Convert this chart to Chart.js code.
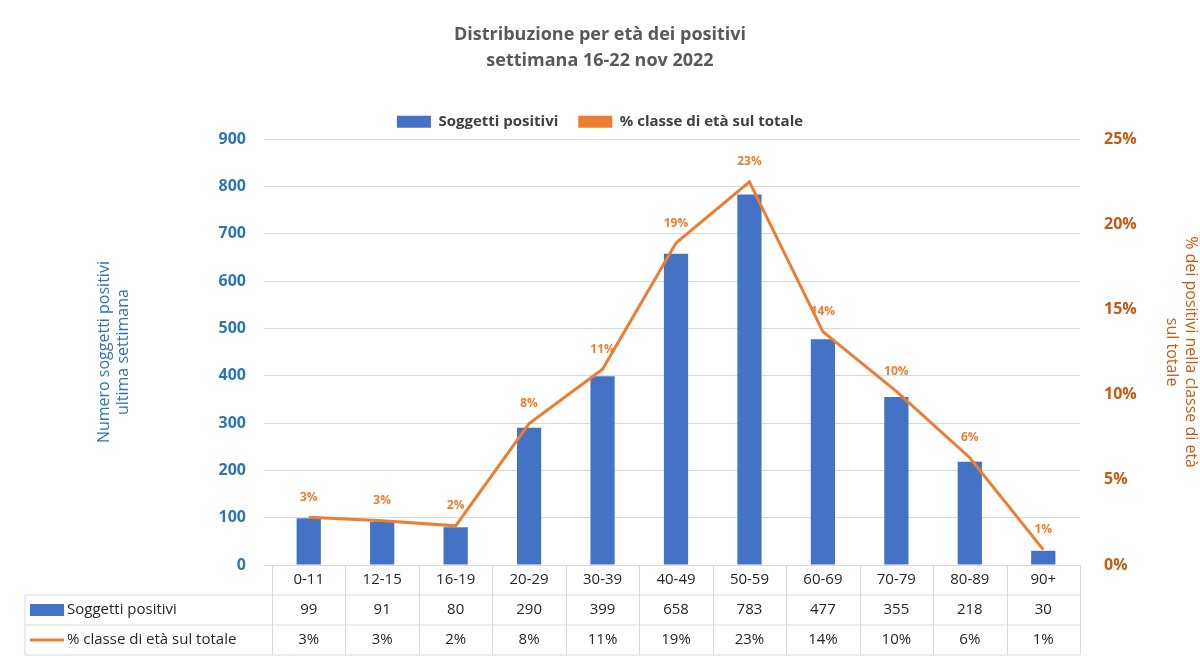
<!DOCTYPE html>
<html lang="it">
<head>
<meta charset="UTF-8">
<title>Distribuzione per età dei positivi</title>
<script src="https://cdn.jsdelivr.net/npm/chart.js@4.4.0/dist/chart.umd.min.js"></script>
<style>
  body { margin: 0; background: #fff; }
  #wrap { width: 1200px; height: 662px; }
</style>
</head>
<body>
<div id="wrap"><canvas id="chart"></canvas></div>
<script>
// --- Dati ---
const classi = ['0-11', '12-15', '16-19', '20-29', '30-39', '40-49', '50-59', '60-69', '70-79', '80-89', '90+'];
const soggetti = [99, 91, 80, 290, 399, 658, 783, 477, 355, 218, 30];
const percentuali = [2.8, 2.6, 2.3, 8.3, 11.5, 18.9, 22.5, 13.7, 10.2, 6.3, 0.9];
const etichettePerc = ['3%', '3%', '2%', '8%', '11%', '19%', '23%', '14%', '10%', '6%', '1%'];

const BLU = '#4472c4';
const ARANCIO = '#ed7d31';
const FONT = '"Open Sans", "Noto Sans", sans-serif';

// etichette % sopra i punti della linea
const etichetteLinea = {
  id: 'etichetteLinea',
  afterDatasetsDraw(chart) {
    const ctx = chart.ctx;
    const meta = chart.getDatasetMeta(1);
    ctx.save();
    ctx.fillStyle = ARANCIO;
    ctx.font = 'bold 12px ' + FONT;
    ctx.textAlign = 'center';
    meta.data.forEach((p, i) => ctx.fillText(etichettePerc[i], p.x, p.y - 20));
    ctx.restore();
  }
};

// tabella dati sotto il grafico
const tabellaDati = {
  id: 'tabellaDati',
  afterDraw(chart) {
    const ctx = chart.ctx;
    const x = chart.scales.x;
    const area = chart.chartArea;
    const passo = x.getPixelForValue(1) - x.getPixelForValue(0);
    const sinistra = 25, destra = area.right;
    const r0 = area.bottom, r1 = r0 + 30, r2 = r1 + 30, r3 = r2 + 30;
    ctx.save();
    ctx.strokeStyle = '#d9d9d9';
    ctx.lineWidth = 1;
    ctx.beginPath();
    ctx.moveTo(sinistra, r1); ctx.lineTo(destra, r1);
    ctx.moveTo(sinistra, r2); ctx.lineTo(destra, r2);
    ctx.moveTo(sinistra, r3); ctx.lineTo(destra, r3);
    ctx.moveTo(sinistra, r1); ctx.lineTo(sinistra, r3);
    for (let i = 0; i <= classi.length; i++) {
      const px = Math.round(area.left + i * passo) + 0.5;
      ctx.moveTo(px, r0); ctx.lineTo(px, r3);
    }
    ctx.stroke();

    ctx.fillStyle = '#262626';
    ctx.font = '15px ' + FONT;
    ctx.textAlign = 'center';
    ctx.textBaseline = 'middle';
    classi.forEach((c, i) => {
      const px = x.getPixelForValue(i);
      ctx.fillText(c, px, (r0 + r1) / 2);
      ctx.fillText(String(soggetti[i]), px, (r1 + r2) / 2);
      ctx.fillText(etichettePerc[i], px, (r2 + r3) / 2);
    });

    ctx.textAlign = 'left';
    ctx.fillStyle = BLU;
    ctx.fillRect(30, (r1 + r2) / 2 - 6, 34, 12);
    ctx.strokeStyle = ARANCIO;
    ctx.lineWidth = 3;
    ctx.beginPath();
    ctx.moveTo(30, (r2 + r3) / 2); ctx.lineTo(64, (r2 + r3) / 2);
    ctx.stroke();
    ctx.fillStyle = '#262626';
    ctx.fillText('Soggetti positivi', 67, (r1 + r2) / 2);
    ctx.fillText('% classe di età sul totale', 67, (r2 + r3) / 2);
    ctx.restore();
  }
};

new Chart(document.getElementById('chart'), {
  data: {
    labels: classi,
    datasets: [
      {
        type: 'bar',
        label: 'Soggetti positivi',
        data: soggetti,
        backgroundColor: BLU,
        barPercentage: 0.33,
        categoryPercentage: 1,
        yAxisID: 'y',
        order: 2
      },
      {
        type: 'line',
        label: '% classe di età sul totale',
        data: percentuali,
        borderColor: ARANCIO,
        backgroundColor: ARANCIO,
        borderWidth: 3,
        pointRadius: 0,
        tension: 0,
        yAxisID: 'y1',
        order: 1
      }
    ]
  },
  options: {
    responsive: true,
    maintainAspectRatio: false,
    animation: false,
    layout: { padding: { top: 10, bottom: 89, right: 0 } },
    plugins: {
      title: {
        display: true,
        text: ['Distribuzione per età dei positivi', 'settimana 16-22 nov 2022'],
        color: '#595959',
        font: { family: FONT, size: 18, weight: 'bold', lineHeight: 1.45 },
        padding: { top: 12, bottom: 20 }
      },
      legend: {
        labels: {
          color: '#404040',
          font: { family: FONT, size: 15, weight: 'bold' },
          boxWidth: 34,
          boxHeight: 12,
          padding: 20,
          generateLabels(chart) {
            return [
              { text: 'Soggetti positivi', fillStyle: BLU, strokeStyle: BLU, lineWidth: 0, datasetIndex: 0, fontColor: '#404040' },
              { text: '% classe di età sul totale', fillStyle: ARANCIO, strokeStyle: ARANCIO, lineWidth: 0, datasetIndex: 1, fontColor: '#404040' }
            ];
          }
        }
      },
      tooltip: { enabled: false }
    },
    scales: {
      x: {
        grid: { display: false },
        border: { color: '#d9d9d9' },
        ticks: { display: false }
      },
      y: {
        position: 'left',
        min: 0, max: 900,
        ticks: { stepSize: 100, color: '#2e75b6', font: { family: FONT, size: 16, weight: 'bold' }, padding: 18 },
        grid: { color: '#d9d9d9' },
        border: { display: false },
        title: {
          display: true,
          text: ['Numero soggetti positivi', 'ultima settimana'],
          color: '#2e75b6',
          font: { family: FONT, size: 16 },
          padding: { top: 95, bottom: 0 }
        },
        afterFit(scale) { scale.width = 272; }
      },
      y1: {
        position: 'right',
        min: 0, max: 25,
        ticks: {
          stepSize: 5,
          color: '#c55a11',
          font: { family: FONT, size: 16, weight: 'bold' },
          padding: 16,
          callback: v => v + '%'
        },
        grid: { display: false },
        border: { display: false },
        title: {
          display: true,
          text: ['% dei positivi nella classe di età', 'sul totale'],
          color: '#c55a11',
          font: { family: FONT, size: 16 },
          padding: { top: 0, bottom: 25 }
        },
        afterFit(scale) { scale.width = 120; }
      }
    }
  },
  plugins: [etichetteLinea, tabellaDati]
});
</script>
</body>
</html>
